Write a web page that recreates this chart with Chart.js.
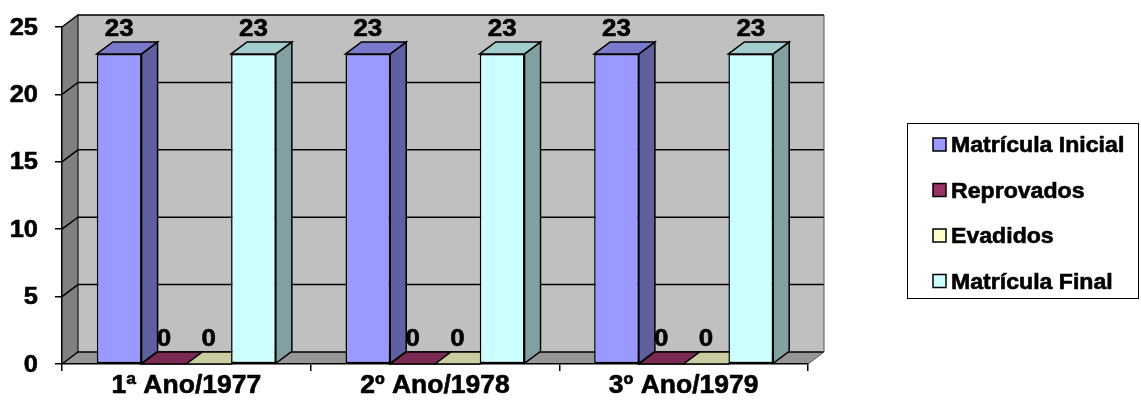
<!DOCTYPE html>
<html><head><meta charset="utf-8">
<script src="https://cdn.jsdelivr.net/npm/chart.js@4"></script>
<style>html,body{margin:0;padding:0;background:#fff;overflow:hidden}</style>
</head><body>
<canvas id="c" width="1141" height="405"></canvas>
<script>
const categories = ['1ª Ano/1977', '2º Ano/1978', '3º Ano/1979'];
const seriesNames = ['Matrícula Inicial', 'Reprovados', 'Evadidos', 'Matrícula Final'];
const matriculaInicial = [23, 23, 23];
const reprovados = [0, 0, 0];
const evadidos = [0, 0, 0];
const matriculaFinal = [23, 23, 23];
const yTickValues = [0, 5, 10, 15, 20, 25];
const seriesColors = ['#9999FF', '#993366', '#FFFFCC', '#CCFFFF'];

const DX = 16, DY = 12;
const FONT = '"Liberation Sans", Arial, sans-serif';

function shade(hex, f) {
  const n = parseInt(hex.slice(1), 16);
  const r = Math.round(((n >> 16) & 255) * f), g = Math.round(((n >> 8) & 255) * f), b = Math.round((n & 255) * f);
  return `rgb(${r},${g},${b})`;
}
function poly(ctx, pts, fill, stroke, lw) {
  ctx.beginPath();
  pts.forEach((p, i) => i ? ctx.lineTo(p[0], p[1]) : ctx.moveTo(p[0], p[1]));
  ctx.closePath();
  if (fill) { ctx.fillStyle = fill; ctx.fill(); }
  if (stroke) { ctx.strokeStyle = stroke; ctx.lineWidth = lw || 1; ctx.stroke(); }
}
function sText(ctx, txt, x, y, align, baseline, size, sx) {
  ctx.save();
  ctx.font = 'bold ' + size + 'px ' + FONT; ctx.textAlign = align; ctx.textBaseline = baseline;
  ctx.fillStyle = '#000'; ctx.strokeStyle = '#000'; ctx.lineWidth = 0.6; ctx.lineJoin = 'round';
  ctx.translate(x, y); ctx.scale(sx, 1);
  ctx.fillText(txt, 0, 0);
  ctx.strokeText(txt, 0, 0);
  ctx.restore();
}

const walls = {
  id: 'walls',
  beforeDraw(chart) {
    const { ctx, chartArea: a } = chart; const y = chart.scales.y;
    ctx.save();
    ctx.fillStyle = '#C0C0C0';
    ctx.fillRect(a.left + DX, a.top - DY, a.right - a.left, a.bottom - a.top);
    poly(ctx, [[a.left, a.top], [a.left + DX, a.top - DY], [a.left + DX, a.bottom - DY], [a.left, a.bottom]], '#808080');
    poly(ctx, [[a.left, a.bottom], [a.left + DX, a.bottom - DY], [a.right + DX, a.bottom - DY], [a.right, a.bottom]], '#969696');
    ctx.strokeStyle = '#000'; ctx.lineWidth = 1.5;
    y.ticks.forEach(t => {
      const py = y.getPixelForValue(t.value);
      ctx.beginPath(); ctx.moveTo(a.left, py); ctx.lineTo(a.left + DX, py - DY); ctx.lineTo(a.right + DX, py - DY); ctx.stroke();
    });
    ctx.strokeStyle = '#555'; ctx.lineWidth = 1;
    ctx.beginPath(); ctx.moveTo(a.right + DX, a.top - DY); ctx.lineTo(a.right + DX, a.bottom - DY); ctx.lineTo(a.right, a.bottom); ctx.stroke();
    ctx.strokeStyle = '#000';
    ctx.beginPath(); ctx.moveTo(a.left + DX, a.top - DY); ctx.lineTo(a.left + DX, a.bottom - DY); ctx.stroke();
    ctx.restore();
  },
  beforeDatasetsDraw(chart) {
    const ctx = chart.ctx;
    ctx.save();
    for (let i = 0; i < categories.length; i++) {
      chart.data.datasets.forEach((ds, j) => {
        const el = chart.getDatasetMeta(j).data[i];
        const { x, y, base, width } = el.getProps(['x', 'y', 'base', 'width'], true);
        const xl = x - width / 2, xr = x + width / 2;
        const col = seriesColors[j];
        poly(ctx, [[xr, y], [xr + DX, y - DY], [xr + DX, base - DY], [xr, base]], shade(col, 0.63), '#000', 1.5);
        poly(ctx, [[xl, y], [xl + DX, y - DY], [xr + DX, y - DY], [xr, y]], shade(col, 0.8), '#000', 1.5);
      });
    }
    ctx.restore();
  },
  afterDatasetsDraw(chart) {
    const ctx = chart.ctx;
    chart.data.datasets.forEach((ds, j) => {
      chart.getDatasetMeta(j).data.forEach((el, i) => {
        sText(ctx, String(ds.data[i]), el.x, el.y - DY - 6, 'center', 'alphabetic', 24, 1.08);
      });
    });
  },
  afterDraw(chart) {
    const ctx = chart.ctx; const a = chart.chartArea;
    const y = chart.scales.y, x = chart.scales.x;
    y.ticks.forEach(t => {
      sText(ctx, String(t.value), a.left - 24, y.getPixelForValue(t.value) + 1, 'right', 'middle', 24, 1.06);
    });
    categories.forEach((c, i) => {
      sText(ctx, c, x.getPixelForValue(i), a.bottom + 22, 'center', 'middle', 25, 1.06);
    });
    // legend
    ctx.save();
    ctx.strokeStyle = '#000'; ctx.lineWidth = 1;
    ctx.strokeRect(907.5, 123.5, 231, 175);
    chart.data.datasets.forEach((ds, k) => {
      const ry = 145 + k * 45.5;
      ctx.fillStyle = seriesColors[k];
      ctx.fillRect(933, ry - 7, 13, 13);
      ctx.lineWidth = 1.5; ctx.strokeStyle = '#000';
      ctx.strokeRect(933, ry - 7, 13, 13);
      sText(ctx, ds.label, 951, ry + 1, 'left', 'middle', 22, 1.05);
    });
    ctx.restore();
  }
};

const seriesData = [matriculaInicial, reprovados, evadidos, matriculaFinal];

new Chart(document.getElementById('c'), {
  type: 'bar',
  data: {
    labels: categories,
    datasets: seriesNames.map((n, k) => ({
      label: n,
      data: seriesData[k],
      backgroundColor: seriesColors[k],
      borderColor: '#000',
      borderWidth: 1.5,
      borderSkipped: false,
      categoryPercentage: 0.72,
      barPercentage: 1.0
    }))
  },
  options: {
    responsive: false,
    animation: false,
    devicePixelRatio: 1,
    layout: { padding: { left: 0, top: 27, right: 333, bottom: 0 } },
    plugins: { legend: { display: false }, tooltip: { enabled: false } },
    scales: {
      y: {
        min: 0, max: 25,
        afterBuildTicks(s) { s.ticks = yTickValues.map(v => ({ value: v })); },
        afterFit(s) { s.width = 62; },
        ticks: { display: false },
        grid: { drawOnChartArea: false, drawTicks: true, tickLength: 7, color: '#000', lineWidth: 1.5 },
        border: { display: true, color: '#000', width: 1.5 }
      },
      x: {
        afterFit(s) { s.height = 41; },
        ticks: { display: false },
        grid: { drawOnChartArea: false, drawTicks: true, tickLength: 7, color: '#000', lineWidth: 1.5, offset: true },
        border: { display: true, color: '#000', width: 1.5 }
      }
    }
  },
  plugins: [walls]
});
</script>
</body></html>
